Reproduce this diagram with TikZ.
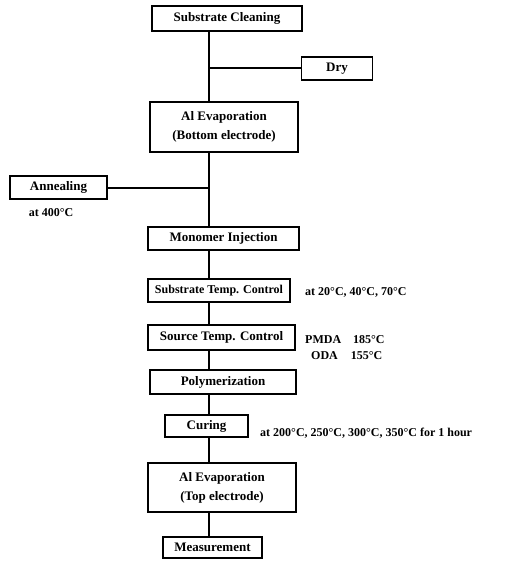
\documentclass[tikz,border=0pt]{standalone}
\usepackage{fontspec}
\setmainfont{Liberation Serif}
\begin{document}
\begin{tikzpicture}[x=1pt,y=-1pt,
  procbox/.style={draw,line width=1.3pt,inner sep=0pt,align=center,font=\fontsize{13}{19}\selectfont\bfseries},
  note/.style={inner sep=0pt,font=\fontsize{12}{14}\selectfont\bfseries},
  conn/.style={line width=1.6pt}]
\useasboundingbox (0,0) rectangle (512,569);
\coordinate (sp) at (209,0);
\node[procbox,minimum width=150,minimum height=25] (clean) at (227,18.5) {Substrate Cleaning};
\node[procbox,minimum width=71,minimum height=23] (dry) at (337,68.5) {Dry};
\node[procbox,minimum width=148,minimum height=50] (evb) at (224,127) {Al Evaporation\\(Bottom electrode)};
\node[procbox,minimum width=97,minimum height=23] (anneal) at (58.5,187.5) {Annealing};
\node[note] (a400) at (51,213) {at 400°C};
\node[procbox,minimum width=142,minimum height=23,font=\fontsize{12}{14}\selectfont\bfseries] (subt) at (219,290.5) {Substrate Temp. Control};
\node[procbox,minimum width=151,minimum height=23] (mono) at (223.5,238.5) {Monomer Injection};
\node[note,anchor=west] (subtl) at (305,292) {at 20°C, 40°C, 70°C};
\node[procbox,minimum width=147,minimum height=25] (src) at (221.5,337.5) {Source Temp. Control};
\node[note,anchor=west] (pmda) at (305,340) {PMDA\hspace{12pt}185°C};
\node[note,anchor=west] (oda) at (311,356) {ODA\hspace{13pt}155°C};
\node[procbox,minimum width=146,minimum height=24] (poly) at (223,382) {Polymerization};
\node[procbox,minimum width=83,minimum height=22] (cure) at (206.5,426) {Curing};
\node[note,anchor=west] (curel) at (260,433) {at 200°C, 250°C, 300°C, 350°C for 1 hour};
\node[procbox,minimum width=148,minimum height=49] (evt) at (222,487.5) {Al Evaporation\\(Top electrode)};
\node[procbox,minimum width=99,minimum height=21] (meas) at (212.5,547.5) {Measurement};
\coordinate (j1) at (209,68);
\coordinate (j2) at (209,188);
\draw[conn] (clean.south -| sp) -- (evb.north -| sp);
\draw[conn] (j1) -- (j1 -| dry.west);
\draw[conn] (evb.south -| sp) -- (mono.north -| sp);
\draw[conn] (j2 -| anneal.east) -- (j2);
\draw[conn] (mono.south -| sp) -- (subt.north -| sp);
\draw[conn] (subt.south -| sp) -- (src.north -| sp);
\draw[conn] (src.south -| sp) -- (poly.north -| sp);
\draw[conn] (poly.south -| sp) -- (cure.north -| sp);
\draw[conn] (cure.south -| sp) -- (evt.north -| sp);
\draw[conn] (evt.south -| sp) -- (meas.north -| sp);
\end{tikzpicture}
\end{document}
